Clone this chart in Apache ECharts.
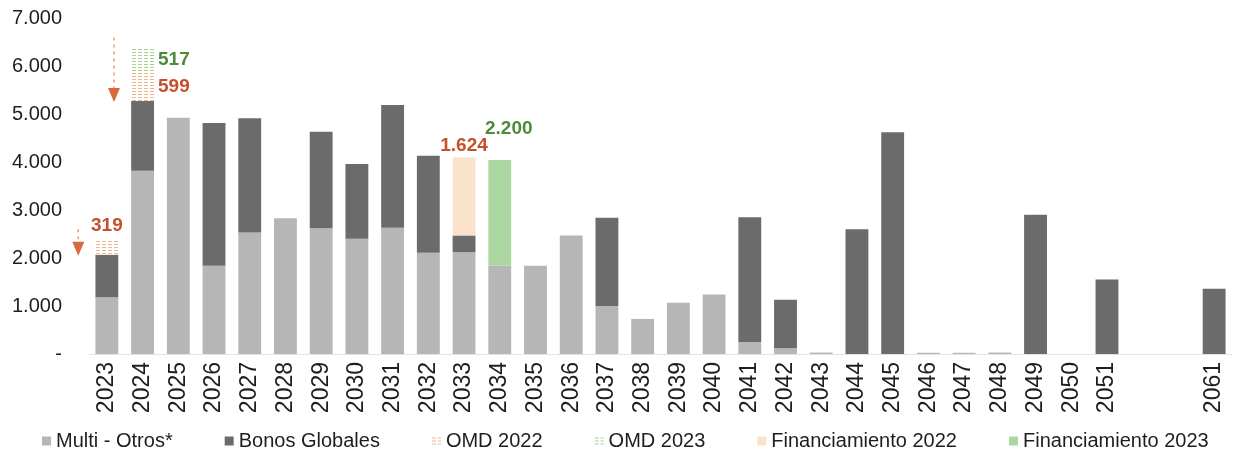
<!DOCTYPE html>
<html>
<head>
<meta charset="utf-8">
<script src="https://cdn.jsdelivr.net/npm/echarts@6/dist/echarts.min.js"></script>
<style>
  html, body { margin: 0; padding: 0; background: #fff; }
  #main { width: 1234px; height: 458px; }
</style>
</head>
<body>
<div id="main"></div>
<script>
// años de vencimiento (dos huecos antes de 2061)
const years = ['2023','2024','2025','2026','2027','2028','2029','2030','2031','2032',
  '2033','2034','2035','2036','2037','2038','2039','2040','2041','2042','2043','2044',
  '2045','2046','2047','2048','2049','2050','2051','',' ','2061'];

const multiOtros = [1180, 3820, 4920, 1840, 2530, 2830, 2620, 2400, 2630, 2110,
  2120, 1840, 1840, 2470, 1000, 730, 1070, 1240, 250, 120, 30, 0,
  0, 25, 25, 30, 0, 0, 0, 0, 0, 0];
const bonosGlobales = [890, 1450, 0, 2970, 2380, 0, 2010, 1560, 2560, 2020,
  350, 0, 0, 0, 1840, 0, 0, 0, 2600, 1010, 0, 2600,
  4620, 0, 0, 0, 2900, 0, 1550, 0, 0, 1360];
const omd2022 = [319, 599, 0, 0, 0, 0, 0, 0, 0, 0, 0, 0, 0, 0, 0, 0, 0, 0, 0, 0, 0, 0, 0, 0, 0, 0, 0, 0, 0, 0, 0, 0];
const omd2023 = [0, 517, 0, 0, 0, 0, 0, 0, 0, 0, 0, 0, 0, 0, 0, 0, 0, 0, 0, 0, 0, 0, 0, 0, 0, 0, 0, 0, 0, 0, 0, 0];
const fin2022 = [0, 0, 0, 0, 0, 0, 0, 0, 0, 0, 1624, 0, 0, 0, 0, 0, 0, 0, 0, 0, 0, 0, 0, 0, 0, 0, 0, 0, 0, 0, 0, 0];
const fin2023 = [0, 0, 0, 0, 0, 0, 0, 0, 0, 0, 0, 2200, 0, 0, 0, 0, 0, 0, 0, 0, 0, 0, 0, 0, 0, 0, 0, 0, 0, 0, 0, 0];

// años con flecha de prepago
const arrowIdx = [0, 1];

const ROJO = '#c4512b';
const VERDE = '#4f8a3a';

// separador de miles con punto
function fmt(v) {
  return String(Math.round(v)).replace(/\B(?=(\d{3})+(?!\d))/g, '.');
}

// rayado horizontal para las barras OMD
function hatch(color) {
  const c = document.createElement('canvas');
  c.width = 6; c.height = 3;
  const ctx = c.getContext('2d');
  ctx.fillStyle = '#ffffff';
  ctx.fillRect(0, 0, 6, 3);
  ctx.fillStyle = color;
  ctx.fillRect(0, 1, 4, 1);
  return { image: c, repeat: 'repeat' };
}

const chart = echarts.init(document.getElementById('main'));

const base = { type: 'bar', stack: 'total', barCategoryGap: '36%' };

const option = {
  animation: false,
  textStyle: { fontFamily: 'Liberation Sans, Arial, sans-serif' },
  grid: { left: 89, right: 2, top: 18, bottom: 104 },
  xAxis: {
    type: 'category',
    data: years,
    axisTick: { show: false },
    axisLine: { lineStyle: { color: '#e4e4e4' } },
    axisLabel: { rotate: 90, interval: 0, fontSize: 23, color: '#1e1e1e', margin: 8 }
  },
  yAxis: {
    type: 'value',
    min: 0, max: 7000, interval: 1000,
    splitLine: { show: false },
    axisLabel: {
      fontSize: 20, color: '#1e1e1e', margin: 27,
      formatter: v => (v === 0 ? '-' : fmt(v))
    }
  },
  legend: {
    bottom: 2, left: 37,
    itemWidth: 9, itemHeight: 9, itemGap: 52,
    icon: 'rect',
    textStyle: { fontSize: 20, color: '#1e1e1e' },
    data: ['Multi - Otros*', 'Bonos Globales', 'OMD 2022', 'OMD 2023', 'Financiamiento 2022', 'Financiamiento 2023']
  },
  series: [
    Object.assign({}, base, { name: 'Multi - Otros*', data: multiOtros, itemStyle: { color: '#b6b6b6' } }),
    Object.assign({}, base, { name: 'Bonos Globales', data: bonosGlobales, itemStyle: { color: '#6b6b6b' } }),
    Object.assign({}, base, {
      name: 'Financiamiento 2022', data: fin2022, itemStyle: { color: '#fbe2cd' },
      label: { show: true, position: 'top', distance: 2, color: ROJO, fontSize: 19, fontWeight: 'bold',
        formatter: p => (p.value ? fmt(p.value) : '') }
    }),
    Object.assign({}, base, {
      name: 'Financiamiento 2023', data: fin2023, itemStyle: { color: '#acd7a2' },
      label: { show: true, position: 'top', distance: 22, offset: [9, 0], color: VERDE, fontSize: 19, fontWeight: 'bold',
        formatter: p => (p.value ? fmt(p.value) : '') }
    }),
    Object.assign({}, base, {
      name: 'OMD 2022',
      data: omd2022.map((v, i) => ({
        value: v,
        label: { position: i === 0 ? 'top' : 'right' }
      })),
      itemStyle: { color: hatch('#f2b48c') },
      label: { show: true, distance: 4, color: ROJO, fontSize: 19, fontWeight: 'bold',
        formatter: p => (p.value ? fmt(p.value) : '') }
    }),
    Object.assign({}, base, {
      name: 'OMD 2023', data: omd2023, itemStyle: { color: hatch('#a9d08e') },
      label: { show: true, position: 'right', distance: 4, color: VERDE, fontSize: 19, fontWeight: 'bold',
        formatter: p => (p.value ? fmt(p.value) : '') }
    })
  ]
};

chart.setOption(option);

// flechas punteadas de prepago, a la izquierda de cada barra
const step = chart.convertToPixel({ gridIndex: 0 }, [1, 0])[0] - chart.convertToPixel({ gridIndex: 0 }, [0, 0])[0];
const graphics = [];
arrowIdx.forEach(i => {
  const solid = multiOtros[i] + bonosGlobales[i];
  const total = solid + omd2022[i] + omd2023[i];
  const top = chart.convertToPixel({ gridIndex: 0 }, [i, total]);
  const tip = chart.convertToPixel({ gridIndex: 0 }, [i, solid]);
  const x = top[0] - step * 0.8;
  const y0 = top[1] - 10;
  const y1 = tip[1] + 1;
  graphics.push({
    type: 'line',
    shape: { x1: x, y1: y0, x2: x, y2: y1 - 12 },
    style: { stroke: '#e39a7a', lineWidth: 1.5, lineDash: [3, 4] }
  });
  graphics.push({
    type: 'polygon',
    shape: { points: [[x - 6, y1 - 14], [x + 6, y1 - 14], [x, y1]] },
    style: { fill: '#d7693f' }
  });
});
chart.setOption({ graphic: graphics });
</script>
</body>
</html>
